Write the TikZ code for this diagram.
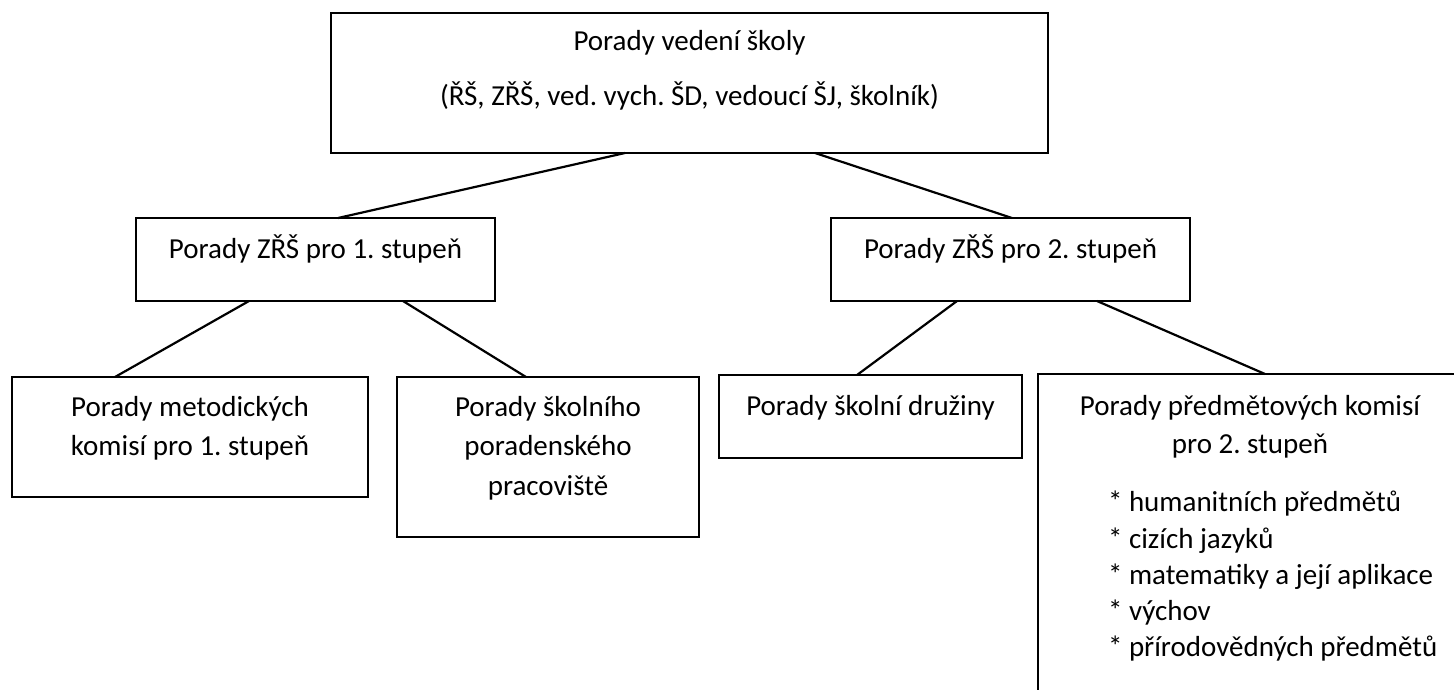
\documentclass[tikz,border=0pt]{standalone}
\usepackage{fontspec}
\setmainfont{Carlito}
\frenchspacing
\begin{document}
\begin{tikzpicture}[x=1pt,y=-1pt,
  box/.style={draw=black,line width=2.4pt,rectangle,inner sep=0pt,outer sep=0pt},
  conn/.style={draw=black,line width=2.2pt},
  txt/.style={inner sep=0pt,outer sep=0pt,anchor=base,font=\fontsize{29}{38}\selectfont},
  txtl/.style={txt,anchor=base west}]
\useasboundingbox (0,0) rectangle (1454,689);
% boxes
\node[box,minimum width=717pt,minimum height=140pt] (top) at (689.5,83) {};
\node[box,minimum width=359pt,minimum height=83pt] (m1) at (315.5,259.5) {};
\node[box,minimum width=359pt,minimum height=83pt] (m2) at (1010.5,259.5) {};
\node[box,minimum width=356pt,minimum height=120pt] (b1) at (190,437) {};
\node[box,minimum width=302pt,minimum height=160pt] (b2) at (548,457) {};
\node[box,minimum width=303pt,minimum height=83pt] (b3) at (870.5,416.5) {};
% cut-off box (only top and left edges visible)
\coordinate (b4nw) at (1038,374);
\draw[line width=2.4pt] (1038,695) -- (b4nw) -- (1460,374);
\coordinate (b4in) at (1265,374);
% texts
\node[txt] (t1) at (689.5,50) {Porady vedení školy};
\node[txt] (t2) at (689.5,105) {(ŘŠ, ZŘŠ, ved. vych. ŠD, vedoucí ŠJ, školník)};
\node[txt] (tm1) at (315.5,258) {Porady ZŘŠ pro 1. stupeň};
\node[txt] (tm2) at (1010.5,258) {Porady ZŘŠ pro 2. stupeň};
\node[txt] (tb1a) at (190,416) {Porady metodických};
\node[txt] (tb1b) at (190,455) {komisí pro 1. stupeň};
\node[txt] (tb2a) at (548,416) {Porady školního};
\node[txt] (tb2b) at (548,455) {poradenského};
\node[txt] (tb2c) at (548,495) {pracoviště};
\node[txt] (tb3) at (870.5,415) {Porady školní družiny};
\node[txt] (tb4a) at (1250,415) {Porady předmětových komisí};
\node[txt] (tb4b) at (1250,453) {pro 2. stupeň};
\node[txtl] (i1) at (1108,511) {* humanitních předmětů};
\node[txtl] (i2) at (1108,548) {* cizích jazyků};
\node[txtl] (i3) at (1108,584) {* matematiky a její aplikace};
\node[txtl] (i4) at (1108,620) {* výchov};
\node[txtl] (i5) at (1108,656) {* přírodovědných předmětů};
% connectors
\draw[conn] ([xshift=294pt]top.south west) -- ([xshift=202pt]m1.north west);
\draw[conn] ([xshift=484pt]top.south west) -- ([xshift=181pt]m2.north west);
\draw[conn] ([xshift=113pt]m1.south west) -- ([xshift=103pt]b1.north west);
\draw[conn] ([xshift=267pt]m1.south west) -- ([xshift=129pt]b2.north west);
\draw[conn] ([xshift=126pt]m2.south west) -- ([xshift=138pt]b3.north west);
\draw[conn] ([xshift=266pt]m2.south west) -- (b4in);
\end{tikzpicture}
\end{document}
